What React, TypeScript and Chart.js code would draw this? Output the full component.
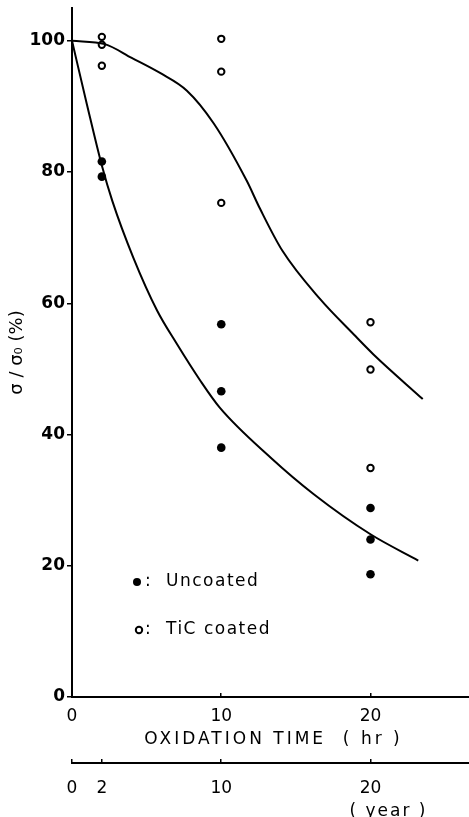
import React, { useEffect, useRef } from 'react';
import { Chart, registerables } from 'chart.js';

Chart.register(...registerables);

// ---- data ----
const uncoatedTimes = [2, 2, 10, 10, 10, 20, 20, 20];
const uncoatedValues = [81.6, 79.3, 56.8, 46.6, 38.0, 28.8, 24.0, 18.7];

const coatedTimes = [2, 2, 2, 10, 10, 10, 20, 20, 20];
const coatedValues = [100.6, 99.4, 96.2, 100.3, 95.3, 75.3, 57.1, 49.9, 34.9];

const uncoatedCurveTimes = [0, 1, 2, 2.7, 4.1, 5.7, 7.0, 8.6, 9.9, 13.3, 16.2, 20, 23.2];
const uncoatedCurveValues = [100, 90.3, 81, 75.6, 67, 58.9, 53.9, 48.2, 44.1, 36.5, 30.9, 24.8, 20.8];

const coatedCurveTimes = [0, 2.2, 4, 5.9, 7.7, 9.5, 11.7, 12.6, 14.1, 16.6, 18.9, 20.2, 23.5];
const coatedCurveValues = [100, 99.5, 97.4, 95.1, 92.4, 87.4, 78.7, 74.4, 68, 60.7, 55.2, 52.2, 45.4];

const hrTicks = [0, 10, 20];
const yearTicks = [0, 2, 10, 20];
const yTicks = [0, 20, 40, 60, 80, 100];

const xTitle = 'OXIDATION TIME  ( hr )';
const yearTitle = '( year )';
const yTitle = 'σ / σ₀ (%)';
const legendUncoated = ':  Uncoated';
const legendCoated = ':  TiC coated';

const FONT = '"DejaVu Sans", "Liberation Sans", sans-serif';

const pts = (xs: number[], ys: number[]) => xs.map((x, i) => ({ x, y: ys[i] }));

const textPlugin = {
  id: 'extraText',
  afterDraw(chart: any) {
    const ctx = chart.ctx as CanvasRenderingContext2D;
    const { left, right, bottom } = chart.chartArea;
    const xs = chart.scales.x;
    const x2 = chart.scales.x2;
    ctx.save();
    ctx.fillStyle = '#000';
    ctx.strokeStyle = '#000';
    ctx.textBaseline = 'middle';

    // x axis title
    ctx.font = `17px ${FONT}`;
    (ctx as any).letterSpacing = '3px';
    ctx.textAlign = 'center';
    ctx.fillText(xTitle, (left + right) / 2 + 3, xs.bottom - 23);

    // year title
    (ctx as any).letterSpacing = '2px';
    ctx.fillText(yearTitle, x2.getPixelForValue(21.2), x2.bottom - 5);

    // legend
    ctx.textAlign = 'left';
    (ctx as any).letterSpacing = '1.5px';
    const y1 = bottom - 115;
    const y2 = bottom - 67;
    ctx.beginPath();
    ctx.arc(left + 65, y1, 4, 0, Math.PI * 2);
    ctx.fill();
    ctx.fillText(legendUncoated, left + 73, y1);
    ctx.beginPath();
    ctx.lineWidth = 2;
    ctx.arc(left + 67, y2, 3.2, 0, Math.PI * 2);
    ctx.stroke();
    ctx.fillText(legendCoated, left + 73, y2);
    ctx.restore();
  },
};

export default function App() {
  const ref = useRef<HTMLCanvasElement | null>(null);

  useEffect(() => {
    if (!ref.current) return;
    Chart.defaults.font.family = FONT;
    Chart.defaults.color = '#000';
    const chart = new Chart(ref.current, {
      type: 'scatter',
      data: {
        datasets: [
          {
            label: 'Uncoated fit',
            data: pts(uncoatedCurveTimes, uncoatedCurveValues),
            showLine: true,
            borderColor: '#000',
            borderWidth: 2,
            pointRadius: 0,
            cubicInterpolationMode: 'monotone',
          } as any,
          {
            label: 'TiC coated fit',
            data: pts(coatedCurveTimes, coatedCurveValues),
            showLine: true,
            borderColor: '#000',
            borderWidth: 2,
            pointRadius: 0,
            cubicInterpolationMode: 'monotone',
          } as any,
          {
            label: 'Uncoated',
            data: pts(uncoatedTimes, uncoatedValues),
            pointRadius: 4.3,
            pointBackgroundColor: '#000',
            pointBorderColor: '#000',
            pointBorderWidth: 0,
          },
          {
            label: 'TiC coated',
            data: pts(coatedTimes, coatedValues),
            pointRadius: 3.2,
            pointBackgroundColor: '#fff',
            pointBorderColor: '#000',
            pointBorderWidth: 2,
          },
        ],
      },
      options: {
        responsive: false,
        animation: false,
        layout: { autoPadding: false, padding: { top: 8, left: 0, right: 0, bottom: 0 } },
        plugins: { legend: { display: false }, tooltip: { enabled: false } },
        scales: {
          x: {
            type: 'linear',
            position: 'bottom',
            weight: 0,
            min: 0,
            max: 26.6,
            afterBuildTicks: (s: any) => {
              s.ticks = hrTicks.map((v) => ({ value: v }));
            },
            afterFit: (s: any) => {
              s.height = 66;
              s.paddingLeft = 0;
              s.paddingRight = 0;
            },
            grid: { drawOnChartArea: false, drawTicks: true, tickLength: -4, color: '#000', lineWidth: 1.5 },
            border: { display: true, color: '#000', width: 2 },
            ticks: { padding: 13, font: { size: 17 }, color: '#000', maxRotation: 0 },
          },
          x2: {
            type: 'linear',
            position: 'bottom',
            weight: 1,
            min: 0,
            max: 26.6,
            afterBuildTicks: (s: any) => {
              s.ticks = yearTicks.map((v) => ({ value: v }));
            },
            afterFit: (s: any) => {
              s.height = 54;
              s.paddingLeft = 0;
              s.paddingRight = 0;
            },
            grid: { drawOnChartArea: false, drawTicks: true, tickLength: -4, color: '#000', lineWidth: 1.5 },
            border: { display: true, color: '#000', width: 2 },
            ticks: { padding: 19, font: { size: 17 }, color: '#000', maxRotation: 0 },
          },
          y: {
            type: 'linear',
            position: 'left',
            min: 0,
            max: 105,
            afterBuildTicks: (s: any) => {
              s.ticks = yTicks.map((v) => ({ value: v }));
            },
            afterFit: (s: any) => {
              s.width = 72;
              s.paddingTop = 0;
              s.paddingBottom = 0;
            },
            grid: { drawOnChartArea: false, drawTicks: true, tickLength: 5, color: '#000', lineWidth: 1.5 },
            border: { display: true, color: '#000', width: 2 },
            ticks: { padding: 2, font: { size: 17, weight: 'bold' }, color: '#000' },
            title: {
              display: true,
              text: yTitle,
              font: { size: 18 },
              color: '#000',
              padding: { top: 7, bottom: 0 },
            },
          },
        },
      } as any,
      plugins: [textPlugin],
    });
    return () => chart.destroy();
  }, []);

  return (
    <div style={{ position: 'fixed', left: 0, top: 0, width: 469, height: 817, background: '#fff' }}>
      <canvas ref={ref} width={469} height={817} style={{ display: 'block' }} />
    </div>
  );
}
